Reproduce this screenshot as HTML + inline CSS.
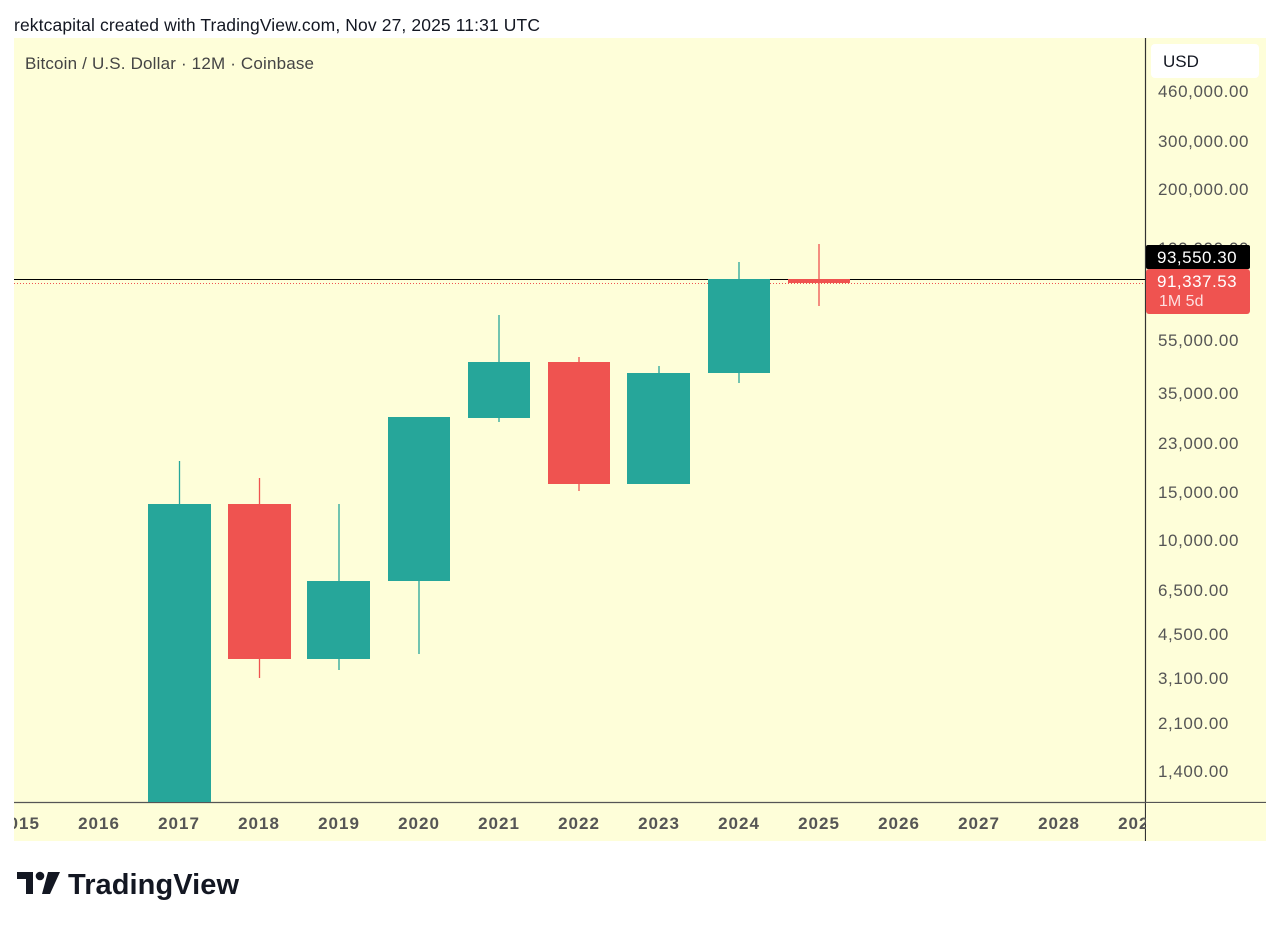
<!DOCTYPE html>
<html><head><meta charset="utf-8"><style>
body{margin:0;background:#fff;width:1280px;height:926px;overflow:hidden;font-family:"Liberation Sans",sans-serif}
</style></head><body>
<svg width="1280" height="926" xmlns="http://www.w3.org/2000/svg" font-family="Liberation Sans, sans-serif">
<rect width="1280" height="926" fill="#fff"/>
<text x="14" y="31" font-size="17.5" fill="#131722" textLength="526">rektcapital created with TradingView.com, Nov 27, 2025 11:31 UTC</text>
<rect x="14" y="38" width="1252" height="803" fill="#fefed9"/>
<text x="25" y="69" font-size="17" fill="#444" textLength="289">Bitcoin / U.S. Dollar · 12M · Coinbase</text>
<line x1="1145.5" y1="38" x2="1145.5" y2="841" stroke="#333" stroke-width="1.2"/>
<line x1="14" y1="802.5" x2="1266" y2="802.5" stroke="#555" stroke-width="1.2"/>
<line x1="14" y1="279.5" x2="1145" y2="279.5" stroke="#000" stroke-width="1"/>
<line x1="14" y1="283.5" x2="1145" y2="283.5" stroke="#ef5350" stroke-width="1" stroke-dasharray="1,2"/>
<g stroke-width="1.3">
<line x1="179.5" y1="461" x2="179.5" y2="504" stroke="#26a69a"/>
<rect x="148" y="504" width="63" height="298" fill="#26a69a"/>
<line x1="259.5" y1="478" x2="259.5" y2="678" stroke="#ef5350"/>
<rect x="228" y="504" width="63" height="155" fill="#ef5350"/>
<line x1="339" y1="504" x2="339" y2="670" stroke="#26a69a"/>
<rect x="307" y="581" width="63" height="78" fill="#26a69a"/>
<line x1="419" y1="417" x2="419" y2="654" stroke="#26a69a"/>
<rect x="388" y="417" width="62" height="164" fill="#26a69a"/>
<line x1="499" y1="315" x2="499" y2="422" stroke="#26a69a"/>
<rect x="468" y="362" width="62" height="56" fill="#26a69a"/>
<line x1="579" y1="357" x2="579" y2="491" stroke="#ef5350"/>
<rect x="548" y="362" width="62" height="122" fill="#ef5350"/>
<line x1="659" y1="366" x2="659" y2="484" stroke="#26a69a"/>
<rect x="627" y="373" width="63" height="111" fill="#26a69a"/>
<line x1="739" y1="262" x2="739" y2="383" stroke="#26a69a"/>
<rect x="708" y="279" width="62" height="94" fill="#26a69a"/>
<line x1="819" y1="244" x2="819" y2="306" stroke="#ef5350"/>
<rect x="788" y="279" width="62" height="4" fill="#ef5350"/>
</g>
<g font-size="17" font-weight="bold" fill="#555" text-anchor="middle" letter-spacing="1">
<text x="19" y="829">2015</text><text x="99" y="829">2016</text><text x="179" y="829">2017</text><text x="259" y="829">2018</text><text x="339" y="829">2019</text><text x="419" y="829">2020</text><text x="499" y="829">2021</text><text x="579" y="829">2022</text><text x="659" y="829">2023</text><text x="739" y="829">2024</text><text x="819" y="829">2025</text><text x="899" y="829">2026</text><text x="979" y="829">2027</text><text x="1059" y="829">2028</text><text x="1139" y="829">2029</text>
</g>
<rect x="0" y="805" width="14" height="40" fill="#fff"/>
<rect x="1146" y="803" width="120" height="38" fill="#fefed9"/>
<g font-size="17" fill="#555" letter-spacing="0.6">
<text x="1158" y="97">460,000.00</text><text x="1158" y="147">300,000.00</text><text x="1158" y="195">200,000.00</text><text x="1158" y="254">100,000.00</text><text x="1158" y="346">55,000.00</text><text x="1158" y="399">35,000.00</text><text x="1158" y="449">23,000.00</text><text x="1158" y="498">15,000.00</text><text x="1158" y="546">10,000.00</text><text x="1158" y="596">6,500.00</text><text x="1158" y="640">4,500.00</text><text x="1158" y="684">3,100.00</text><text x="1158" y="729">2,100.00</text><text x="1158" y="777">1,400.00</text>
</g>
<rect x="1151" y="44" width="108" height="34" rx="4" fill="#fff"/>
<text x="1163" y="67" font-size="17" fill="#131722">USD</text>
<rect x="1146" y="245" width="104" height="24" rx="2" fill="#000"/>
<text x="1157" y="263" font-size="17" fill="#fff" letter-spacing="0.5">93,550.30</text>
<rect x="1146" y="269" width="104" height="45" rx="3" fill="#ef5350"/>
<text x="1157" y="287" font-size="17" fill="#fff" letter-spacing="0.5">91,337.53</text>
<text x="1159" y="306" font-size="16" fill="#fde0e0">1M 5d</text>
<g fill="#131722">
<path d="M17 872h16v22h-7v-15h-9z"/>
<circle cx="40" cy="876" r="4.3"/>
<path d="M48 872h12l-10 22h-8z"/>
</g>
<text x="68" y="894" font-size="29" font-weight="bold" fill="#131722" textLength="171">TradingView</text>
</svg>
</body></html>
